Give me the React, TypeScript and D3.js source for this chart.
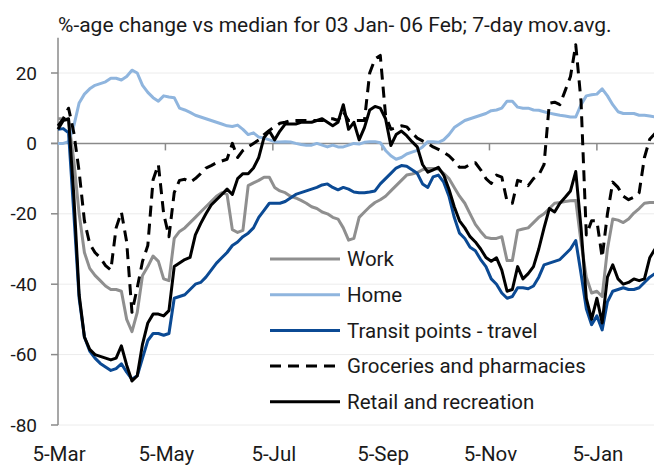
import React, { useEffect, useRef } from 'react';
import * as d3 from 'd3';

// one reading every 3 days, starting 5 March 2020
const startDate = new Date(2020, 2, 5);
const endDate = new Date(2021, 1, 7);
const stepDays = 3;

const title = '%-age change vs median for 03 Jan- 06 Feb; 7-day mov.avg.';

const xTickDates = [
	new Date(2020, 2, 5), new Date(2020, 4, 5), new Date(2020, 6, 5),
	new Date(2020, 8, 5), new Date(2020, 10, 5), new Date(2021, 0, 5)
];
const xTickLabels = ['5-Mar', '5-May', '5-Jul', '5-Sep', '5-Nov', '5-Jan'];
const yTicks = [-80, -60, -40, -20, 0, 20];

const work = [
	7, 7, 6.5, -5, -20, -31, -35.5, -37.5, -39, -40.5,
	-41.5, -41.5, -42, -50, -53.5, -48, -37.5, -35, -32, -33.5,
	-38.5, -39, -27, -25, -24, -22.5, -21, -19.5, -18, -16.5,
	-15, -14, -14.5, -24.5, -25.3, -24.7, -12, -11.2, -10.5, -9.6,
	-9.6, -12.5, -13.5, -14, -15, -15.5, -16.2, -17, -18, -18.5,
	-19.5, -20, -21, -21.5, -24, -27.5, -27, -21, -19.5, -18,
	-16.8, -16, -15, -13.5, -12, -10.5, -9, -8.7, -8.3, -7.5,
	-7.1, -7.1, -7.3, -8.5, -10, -12.5, -15, -17, -20, -23,
	-25, -26.7, -27, -27, -26.5, -33.3, -33.3, -24.7, -24.3, -24,
	-22.5, -21, -20, -18.5, -17, -16.8, -16.5, -16.3, -16.2, -28,
	-38, -42.5, -42, -43.5, -30, -21.5, -21.8, -22.5, -21.5, -19.8,
	-18.5, -17, -16.8, -16.8
];

const home = [
	0, 0, 0.5, 5, 11.5, 14, 15.5, 16.5, 17, 17.5,
	18.5, 18.5, 18, 19, 20.8, 20, 16.5, 14.5, 13, 12,
	13.5, 13.2, 13, 10, 9.5, 8.8, 8, 7.5, 7, 6.5,
	6, 5.5, 5, 4.8, 5.2, 4, 2.5, 3, 1.8, 1.5,
	1, 0.5, 0.4, 0.5, 0.4, 0, -0.3, -0.5, -0.5, 0,
	-0.5, -1, -0.5, -1, -1, -0.5, 0, -0.2, 0.3, 0.5,
	0.5, 0.2, -2, -3.5, -4.5, -4, -3, -2.5, -2, -1,
	0.5, 0.5, 0.3, 1, 2.5, 4.5, 5.5, 6.5, 7, 7.5,
	8, 8.5, 9.3, 9.5, 10, 12, 12, 10.3, 10, 10,
	9.5, 9.4, 9, 8.6, 8.3, 8, 7.8, 7.5, 7.5, 11,
	13.5, 13.8, 14, 15.5, 13.5, 11, 9, 8.5, 8.5, 8.5,
	8, 8, 7.8, 7.5
];

const transit = [
	4, 4.2, 3, -20, -44, -55, -59, -61, -62.5, -63.5,
	-64.5, -64, -62.6, -65, -67, -66, -61, -56, -54, -54,
	-54.5, -54, -44, -43.5, -43, -41.5, -40, -39.5, -38, -36,
	-34, -32.5, -31, -29, -28, -26.5, -25.5, -24, -21, -19,
	-17, -17, -17, -16.5, -15.5, -14.5, -14, -13.5, -13, -12.5,
	-11.8, -11.5, -12.5, -13.2, -12.5, -13, -13.8, -14, -14, -13.8,
	-13.5, -11.5, -10, -8.5, -7, -6.3, -6.5, -7.5, -8.5, -11.5,
	-12.5, -9.5, -9, -11, -15, -21, -25.5, -27, -29.5, -30.5,
	-33, -35, -38.5, -40, -42.5, -44, -43.5, -41, -41, -41.3,
	-40.5, -38, -34.5, -34, -33.5, -33, -31.5, -30, -27.6, -37,
	-47, -51.5, -49, -53, -45, -42, -41.5, -41, -41.5, -41.5,
	-41, -39.5, -38, -37
];

const groceries = [
	5, 7, 10, 3, -8, -22, -28.5, -31, -32.5, -34.7,
	-36, -24, -19.5, -28, -48, -41, -33.5, -29, -10.3, -6,
	-20, -26.5, -14, -10.5, -10.2, -11, -10, -8.6, -7, -6.3,
	-5.5, -5, -4.5, 0, -4, -2, -1, 0, 1, 2.5,
	3.7, 4.7, 5.7, 6, 6.5, 6.5, 6.5, 6.5, 6.5, 6.5,
	6.5, 7, 7, 6.5, 9, 6.5, 6.5, 6.5, 6.5, 20,
	24, 25, 8, 4, 4.5, 5, 4.7, 3, 1.5, 0.7,
	0, -1, -1.7, -2.5, -3.5, -5, -6.8, -6.8, -6, -5.5,
	-7.5, -10, -11.4, -9, -9.6, -16.5, -17, -10.5, -11, -12,
	-10, -9, -6, 11.4, 11.7, 11, 15, 19, 28, 12,
	-26, -22, -22, -32.4, -20, -11, -12.5, -15, -16, -15.3,
	-14, -4, 1.2, 2.8
];

const retail = [
	4, 6.5, 7, -15, -43, -55, -58.5, -60, -60.5, -61,
	-61.5, -61, -57.5, -63, -67.5, -66, -57, -51, -48.5, -48.5,
	-49, -47.5, -35, -34, -33, -32.4, -26, -22.8, -20, -17.5,
	-16, -14.5, -13, -14.5, -10, -8.6, -8.6, -7, -4, 1.7,
	3.5, 1, 3.5, 5.5, 5.5, 5.5, 6, 6, 6, 6.5,
	7, 6, 5, 6, 11, 4, 6, 1, 4.5, 9.5,
	10.5, 10, 7, -0.6, 2.5, 3.5, 2.2, 0.5, -1, -6,
	-8.2, -7.5, -6.8, -9, -13, -18, -22, -24, -26.5, -28,
	-30, -32.4, -33.5, -32.5, -36, -42, -41.5, -35, -38.5, -37,
	-35, -30, -24, -18.5, -19.5, -17, -15.3, -13.5, -8, -24,
	-44, -50, -44, -51, -38, -34.5, -38.5, -40, -39.5, -38.5,
	-39, -38.5, -32.5, -30
];

const seriesNames = ['Work', 'Home', 'Transit points - travel', 'Groceries and pharmacies', 'Retail and recreation'];
const seriesValues = [work, home, transit, groceries, retail];
const seriesColors = ['#8f8f8f', '#8fb5de', '#0b4a94', '#000000', '#000000'];
const seriesDash = [null, null, null, '11,7', null];

const font = 'Roboto, "Noto Sans", sans-serif';

export default function App() {
	const ref = useRef<SVGSVGElement>(null);

	useEffect(() => {
		const svg = d3.select(ref.current);
		svg.selectAll('*').remove();

		// plot area bounds
		const left = 58, right = 655, top = 37.8, bottom = 425;

		const x = d3.scaleTime().domain([startDate, endDate]).range([left, right]);
		const y = d3.scaleLinear().domain([-80, 30]).range([bottom, top]);

		// title
		svg.append('text')
			.text(title)
			.attr('x', 58).attr('y', 32)
			.attr('font-size', 21)
			.attr('fill', '#1a1a1a');

		// horizontal gridlines
		svg.append('g').selectAll('line')
			.data(yTicks.filter(v => v !== 0))
			.enter().append('line')
			.attr('x1', left).attr('x2', 654)
			.attr('y1', d => y(d)).attr('y2', d => y(d))
			.attr('stroke', '#ececec').attr('stroke-width', 1);

		// y axis line + ticks + labels
		svg.append('line')
			.attr('x1', left).attr('x2', left)
			.attr('y1', top).attr('y2', bottom)
			.attr('stroke', '#8a8a8a').attr('stroke-width', 1.5);
		const yAxis = svg.append('g');
		yAxis.selectAll('line')
			.data(yTicks).enter().append('line')
			.attr('x1', left - 7).attr('x2', left)
			.attr('y1', d => y(d)).attr('y2', d => y(d))
			.attr('stroke', '#8a8a8a').attr('stroke-width', 1.5);
		yAxis.selectAll('text')
			.data(yTicks).enter().append('text')
			.text(d => String(d))
			.attr('x', 37)
			.attr('y', d => y(d))
			.attr('dy', '0.35em')
			.attr('text-anchor', 'end')
			.attr('font-size', 19)
			.attr('fill', '#1a1a1a');

		// zero line doubles as the x axis
		svg.append('line')
			.attr('x1', left - 7).attr('x2', 654)
			.attr('y1', y(0)).attr('y2', y(0))
			.attr('stroke', '#8a8a8a').attr('stroke-width', 1.5);
		const xAxis = svg.append('g');
		xAxis.selectAll('line')
			.data(xTickDates.slice(1)).enter().append('line')
			.attr('x1', d => x(d)).attr('x2', d => x(d))
			.attr('y1', y(0)).attr('y2', y(0) + 7)
			.attr('stroke', '#8a8a8a').attr('stroke-width', 1.5);
		xAxis.selectAll('text')
			.data(xTickDates).enter().append('text')
			.text((d, i) => xTickLabels[i])
			.attr('x', d => x(d) + 1)
			.attr('y', 461)
			.attr('text-anchor', 'middle')
			.attr('font-size', 20.5)
			.attr('fill', '#1a1a1a');

		// series lines, in legend order so retail ends up on top
		const line = d3.line<number>()
			.x((d, i) => x(d3.timeDay.offset(startDate, i * stepDays)))
			.y(d => y(d));

		const lines = svg.append('g');
		seriesValues.forEach((vals, k) => {
			lines.append('path')
				.attr('d', line(vals))
				.attr('fill', 'none')
				.attr('stroke', seriesColors[k])
				.attr('stroke-width', 3)
				.attr('stroke-linejoin', 'round')
				.attr('stroke-dasharray', seriesDash[k]);
		});

		// legend
		const legend = svg.append('g');
		seriesNames.forEach((name, k) => {
			const ly = 259 + k * 35.7;
			legend.append('line')
				.attr('x1', 270).attr('x2', 340)
				.attr('y1', ly).attr('y2', ly)
				.attr('stroke', seriesColors[k])
				.attr('stroke-width', 3)
				.attr('stroke-dasharray', seriesDash[k]);
			legend.append('text')
				.text(name)
				.attr('x', 347).attr('y', ly)
				.attr('dy', '0.35em')
				.attr('font-size', 20.5)
				.attr('fill', '#1a1a1a');
		});
	}, []);

	return (
		<div style={{ position: 'absolute', left: 0, top: 0 }}>
			<svg ref={ref} width={654} height={465} style={{ display: 'block', fontFamily: font }} />
		</div>
	);
}
